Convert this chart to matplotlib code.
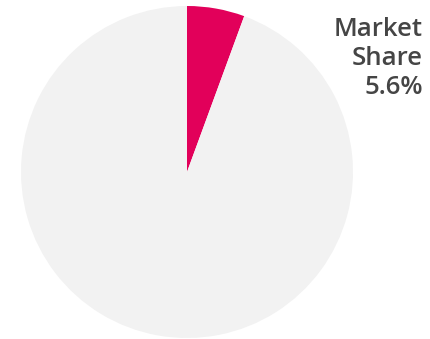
import matplotlib
matplotlib.use("Agg")
import matplotlib.pyplot as plt

labels = ["Market Share", "Other"]
values = [5.6, 94.4]
colors = ["#E2005A", "#F2F2F2"]
label_text = "Market\nShare\n5.6%"

fig = plt.figure(figsize=(4.30, 3.39), dpi=100)
ax = fig.add_axes([0, 0, 1, 1])

ax.pie(values, colors=colors, startangle=90, counterclock=False,
       center=(187, 167), radius=166, frame=True,
       wedgeprops=dict(linewidth=0, antialiased=True))
ax.set_xlim(0, 430)
ax.set_ylim(0, 339)
ax.axis("off")

ax.text(423, 322, label_text, ha="right", va="top", fontsize=18.5,
        family=["Open Sans", "DejaVu Sans"], color="#454545",
        linespacing=1.22, fontweight="semibold")

fig.savefig("out.png", dpi=100)
